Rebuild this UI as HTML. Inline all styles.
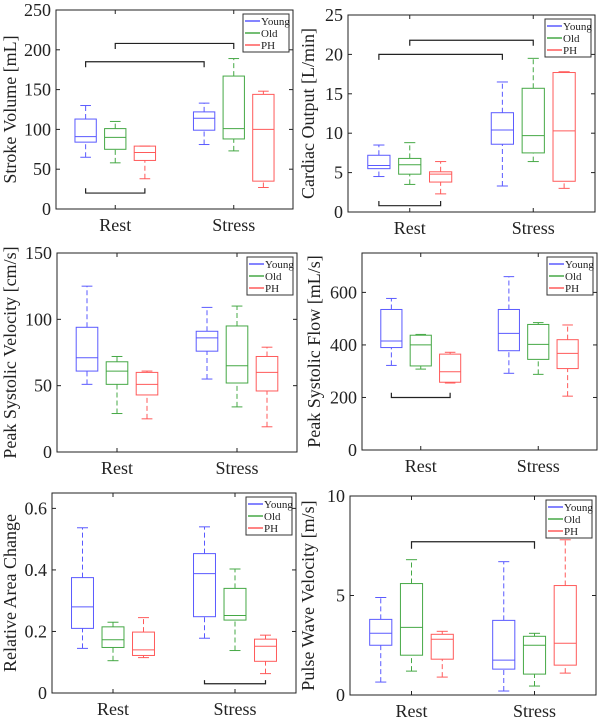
<!DOCTYPE html>
<html><head><meta charset="utf-8"><style>
body{margin:0;background:#fff;}
svg{display:block;font-family:"Liberation Serif",serif;}
</style></head><body>
<svg id="chart" width="601" height="728" viewBox="0 0 601 728"></svg>
<script>
const categories = ["Rest", "Stress"];
const groups = ["Young", "Old", "PH"];
// each box: [whiskerLow, q1, median, q3, whiskerHigh], order Rest(Y,O,PH), Stress(Y,O,PH)
const strokeVolume = [[65,84,91,113,130],[58,75,90,101,110],[38,61,71,79,79],[81,99,114,122,133],[73,88,101,167,189],[27,35,100,144,148]];
const cardiacOutput = [[4.5,5.5,5.9,7.2,8.5],[3.5,4.8,6.0,6.8,8.8],[2.3,3.8,4.8,5.1,6.4],[3.3,8.6,10.4,12.6,16.5],[6.4,7.5,9.7,15.7,19.5],[3.0,3.9,10.3,17.7,17.8]];
const peakVelocity = [[51,61,71,94,125],[29,51,61,68,72],[25,43,51,60,61],[55,76,86,91,109],[34,52,65,95,110],[19,46,60,72,79]];
const peakFlow = [[322,390,415,535,577],[308,320,400,437,440],[255,258,298,365,372],[292,378,444,535,660],[288,345,402,478,485],[205,310,368,420,476]];
const areaChange = [[0.145,0.21,0.28,0.375,0.537],[0.105,0.148,0.173,0.215,0.23],[0.115,0.122,0.14,0.198,0.245],[0.178,0.248,0.388,0.453,0.54],[0.138,0.237,0.252,0.34,0.403],[0.063,0.103,0.152,0.175,0.188]];
const pwv = [[0.65,2.5,3.1,3.8,4.9],[1.2,2.0,3.4,5.6,6.8],[0.9,1.8,2.8,3.05,3.2],[0.2,1.3,1.75,3.75,6.7],[0.45,1.05,2.5,2.95,3.1],[1.1,1.5,2.6,5.5,7.8]];
const ticksSV = [0,50,100,150,200,250];
const ticksCO = [0,5,10,15,20,25];
const ticksPV = [0,50,100,150];
const ticksPF = [0,200,400,600];
const ticksAC = [0,0.2,0.4,0.6];
const tickLabelsAC = ["0","0.2","0.4","0.6"];
const ticksPWV = [0,5,10];
// brackets: [fromBoxIndex, toBoxIndex, value, tickValue]
const bracketsSV = [[0,3,185,178],[1,4,208,201],[0,2,20,26]];
const bracketsCO = [[0,3,20,19.3],[1,4,21.8,21.1],[0,2,0.8,1.4]];
const bracketsPV = [];
const bracketsPF = [[0,2,200,218]];
const bracketsAC = [[3,5,0.03,0.042]];
const bracketsPWV = [[1,4,7.7,7.35]];

const colors = ["#5a5aff","#45a845","#ff5a5a"];
const svg = document.getElementById('chart');
const NS = "http://www.w3.org/2000/svg";
function mk(tag, attrs, parent){const e=document.createElementNS(NS,tag);for(const k in attrs)e.setAttribute(k,attrs[k]);(parent||svg).appendChild(e);return e;}

function panel(cfg){
  const g = mk('g',{});
  
  
  const {x0,x1,y0,y1,ymax} = cfg;
  const xs = v => x0 + (v-0.5)/2*(x1-x0);
  const ys = v => y1 - v/ymax*(y1-y0);
  const bw = 0.09*(x1-x0)/2;
  const frame = mk('rect',{x:x0,y:y0,width:x1-x0,height:y1-y0,fill:'none',stroke:'#222','stroke-width':1},g);
  
  
  cfg.ticks.forEach((t,i)=>{
    const y=ys(t);
    mk('line',{x1:x0,x2:x0+4,y1:y,y2:y,stroke:'#222'},g);
    mk('line',{x1:x1,x2:x1-4,y1:y,y2:y,stroke:'#222'},g);
    const tx=mk('text',{x:x0-5,y:y+6,'text-anchor':'end','font-size':18,fill:'#222'},g);
    tx.textContent = cfg.tickLabels ? cfg.tickLabels[i] : String(t);
    
    
  });
  categories.forEach((c,i)=>{
    const x=xs(i+1);
    mk('line',{x1:x,x2:x,y1:y1,y2:y1-4,stroke:'#222'},g);
    mk('line',{x1:x,x2:x,y1:y0,y2:y0+4,stroke:'#222'},g);
    const tx=mk('text',{x:x,y:y1+22,'text-anchor':'middle','font-size':18,fill:'#222'},g);
    tx.textContent=c;
    
    
  });
  const yt=mk('text',{x:0,y:0,'text-anchor':'middle','font-size':18,fill:'#222',transform:`translate(${cfg.titleX},${(y0+y1)/2}) rotate(-90)`},g);
  yt.textContent=cfg.title;
  
  
  const centers=[];
  cfg.data.forEach((d,i)=>{
    const cat=Math.floor(i/3), gi=i%3;
    const cx=xs(cat+1+(gi-1)*0.25);
    centers.push(cx);
    const col=colors[gi];
    const bg=mk('g',{},g);
    
    
    mk('line',{x1:cx,x2:cx,y1:ys(d[0]),y2:ys(d[1]),stroke:col,'stroke-dasharray':'5,3'},bg);
    mk('line',{x1:cx,x2:cx,y1:ys(d[3]),y2:ys(d[4]),stroke:col,'stroke-dasharray':'5,3'},bg);
    mk('line',{x1:cx-bw/2,x2:cx+bw/2,y1:ys(d[0]),y2:ys(d[0]),stroke:col},bg);
    mk('line',{x1:cx-bw/2,x2:cx+bw/2,y1:ys(d[4]),y2:ys(d[4]),stroke:col},bg);
    mk('rect',{x:cx-bw,y:ys(d[3]),width:2*bw,height:ys(d[1])-ys(d[3]),fill:'none',stroke:col},bg);
    mk('line',{x1:cx-bw,x2:cx+bw,y1:ys(d[2]),y2:ys(d[2]),stroke:col},bg);
  });
  cfg.brackets.forEach(b=>{
    const xa=centers[b[0]], xb=centers[b[1]], y=ys(b[2]), yt2=ys(b[3]);
    const p=mk('path',{d:`M${xa},${yt2}V${y}H${xb}V${yt2}`,fill:'none',stroke:'#222','stroke-width':1.2},g);
    
    
  });
  const lx=x1-50, ly=y0+4;
  const lg=mk('g',{},g);
  
  
  mk('rect',{x:lx,y:ly,width:46,height:38,fill:'#fff',stroke:'#333'},lg);
  groups.forEach((n,i)=>{
    const yy=ly+7+i*12;
    mk('line',{x1:lx+2,x2:lx+17,y1:yy,y2:yy,stroke:colors[i],'stroke-width':1.5},lg);
    const t=mk('text',{x:lx+18,y:yy+4,'font-size':11,fill:'#222'},lg);
    t.textContent=n;
    
    
  });
}
panel({name:'stroke-volume-panel',x0:56,x1:293,y0:10,y1:209,ymax:250,ticks:ticksSV,data:strokeVolume,brackets:bracketsSV,title:'Stroke Volume [mL]',titleX:16});
panel({name:'cardiac-output-panel',x0:348,x1:595,y0:15,y1:212,ymax:25,ticks:ticksCO,data:cardiacOutput,brackets:bracketsCO,title:'Cardiac Output [L/min]',titleX:314});
panel({name:'peak-velocity-panel',x0:57,x1:297,y0:253,y1:452,ymax:150,ticks:ticksPV,data:peakVelocity,brackets:bracketsPV,title:'Peak Systolic Velocity [cm/s]',titleX:16});
panel({name:'peak-flow-panel',x0:362,x1:597,y0:253,y1:450,ymax:750,ticks:ticksPF,data:peakFlow,brackets:bracketsPF,title:'Peak Systolic Flow [mL/s]',titleX:320});
panel({name:'area-change-panel',x0:52,x1:296,y0:493,y1:693,ymax:0.65,ticks:ticksAC,tickLabels:tickLabelsAC,data:areaChange,brackets:bracketsAC,title:'Relative Area Change',titleX:16});
panel({name:'pulse-wave-velocity-panel',x0:350,x1:596,y0:496,y1:695,ymax:10,ticks:ticksPWV,data:pwv,brackets:bracketsPWV,title:'Pulse Wave Velocity [m/s]',titleX:314});
</script>
</body></html>
